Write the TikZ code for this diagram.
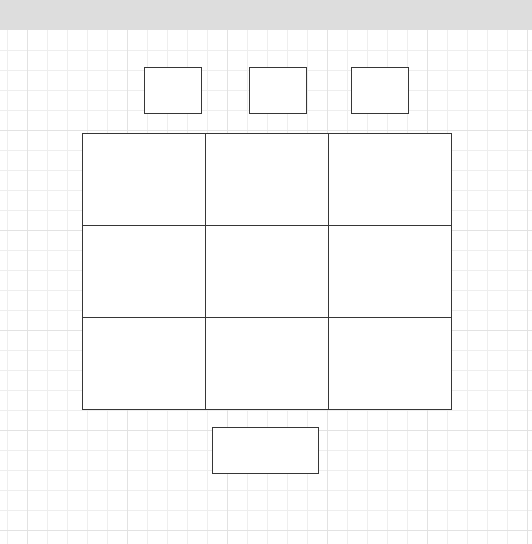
\documentclass[tikz,border=0pt]{standalone}
\definecolor{bar}{HTML}{DDDDDD}
\definecolor{gridminor}{HTML}{EEEEEE}
\definecolor{gridmajor}{HTML}{E2E2E2}
\definecolor{edge}{HTML}{363636}
\tikzset{
  box/.style={draw=edge, line width=0.9pt, fill=white, inner sep=0pt, anchor=north west},
}
\begin{document}
\begin{tikzpicture}[x=1pt,y=-1pt]
\useasboundingbox (0,0) rectangle (532,544);
\fill[white] (0,0) rectangle (532,544);
% grid
\foreach \x in {7,27,...,527} {\draw[gridminor, line width=0.8pt] (\x,30) -- (\x,544);}
\foreach \y in {50,70,...,530} {\draw[gridminor, line width=0.8pt] (0,\y) -- (532,\y);}
\foreach \x in {27,127,...,527} {\draw[gridmajor, line width=0.8pt] (\x,30) -- (\x,544);}
\foreach \y in {130,230,...,530} {\draw[gridmajor, line width=0.8pt] (0,\y) -- (532,\y);}
% top bar
\fill[bar] (0,0) rectangle (532,29.5);
% top small boxes
\node[box, minimum width=57pt, minimum height=46pt] (t1) at (143.7,66.7) {};
\node[box, minimum width=57pt, minimum height=46pt] (t2) at (248.7,66.7) {};
\node[box, minimum width=57pt, minimum height=46pt] (t3) at (350.7,66.7) {};
% 3x3 grid of cells
\node[box, minimum width=123pt, minimum height=92pt] (c11) at (81.7,132.7) {};
\node[box, minimum width=123pt, minimum height=92pt] (c12) at (204.7,132.7) {};
\node[box, minimum width=123pt, minimum height=92pt] (c13) at (327.7,132.7) {};
\node[box, minimum width=123pt, minimum height=92pt] (c21) at (81.7,224.7) {};
\node[box, minimum width=123pt, minimum height=92pt] (c22) at (204.7,224.7) {};
\node[box, minimum width=123pt, minimum height=92pt] (c23) at (327.7,224.7) {};
\node[box, minimum width=123pt, minimum height=92pt] (c31) at (81.7,316.7) {};
\node[box, minimum width=123pt, minimum height=92pt] (c32) at (204.7,316.7) {};
\node[box, minimum width=123pt, minimum height=92pt] (c33) at (327.7,316.7) {};
% bottom box
\node[box, minimum width=106pt, minimum height=46pt] (b) at (211.7,426.7) {};
\end{tikzpicture}
\end{document}
